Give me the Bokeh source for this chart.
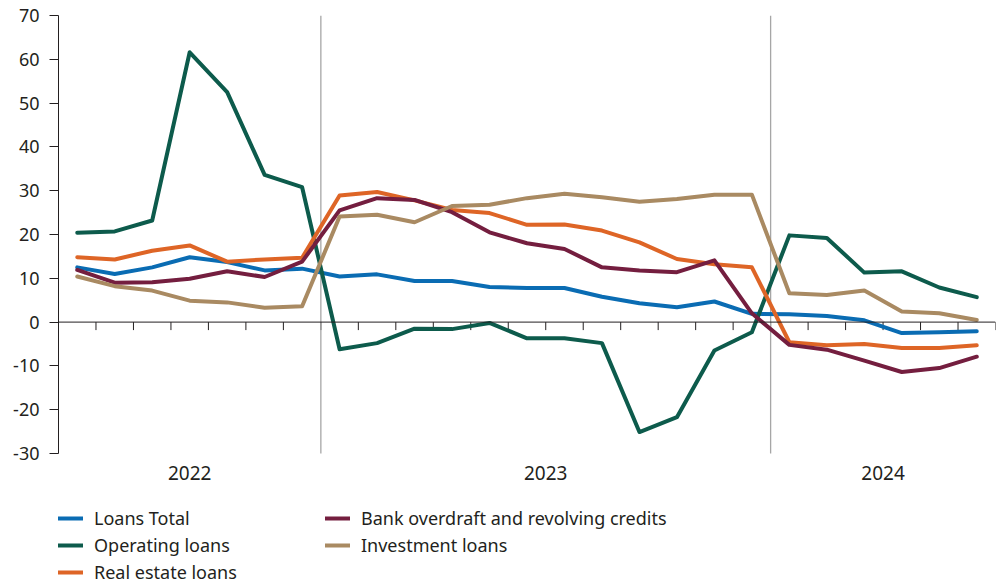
import numpy as np
from bokeh.plotting import figure
from bokeh.models import Range1d, LinearAxis, FixedTicker, Span, Legend, LegendItem
from bokeh.core.properties import value
from bokeh.embed import file_html
from bokeh.resources import INLINE

# ---- data (percent change, monthly) ----
months = (["2022-%02d" % m for m in range(6, 13)] +
          ["2023-%02d" % m for m in range(1, 13)] +
          ["2024-%02d" % m for m in range(1, 7)])

loans_total = [12.5, 11.0, 12.5, 14.8, 13.7, 11.8, 12.2, 10.4, 10.9, 9.4, 9.4, 8.0,
               7.8, 7.8, 5.8, 4.3, 3.4, 4.7, 1.9, 1.8, 1.4, 0.4, -2.5, -2.3, -2.1]
operating = [20.4, 20.7, 23.2, 61.6, 52.5, 33.6, 30.8, -6.2, -4.8, -1.5, -1.6, -0.2,
             -3.7, -3.7, -4.8, -25.1, -21.7, -6.5, -2.3, 19.8, 19.2, 11.3, 11.6, 7.9, 5.7]
real_estate = [14.8, 14.3, 16.3, 17.5, 13.8, 14.3, 14.7, 28.9, 29.7, 27.8, 25.6, 24.9,
               22.2, 22.3, 20.9, 18.2, 14.4, 13.2, 12.5, -4.6, -5.3, -5.0, -5.9, -5.9, -5.3]
overdraft = [11.9, 9.0, 9.1, 9.9, 11.6, 10.3, 13.8, 25.5, 28.3, 27.9, 25.1, 20.5,
             18.0, 16.7, 12.5, 11.8, 11.4, 14.1, 2.0, -5.2, -6.3, -8.8, -11.4, -10.5, -7.9]
investment = [10.4, 8.2, 7.2, 4.9, 4.5, 3.3, 3.6, 24.1, 24.5, 22.8, 26.5, 26.8,
              28.3, 29.3, 28.5, 27.5, 28.1, 29.1, 29.1, 6.6, 6.2, 7.2, 2.4, 2.0, 0.5]

years = ["2022", "2023", "2024"]
y_ticks = [-30, -20, -10, 0, 10, 20, 30, 40, 50, 60, 70]
y_tick_labels = ["-30", "-20", "-10", "0", "10", "20", "30", "40", "50", "60", "70"]

series = [
    ("Loans Total", loans_total, "#0a6cb3"),
    ("Operating loans", operating, "#0d5b4c"),
    ("Real estate loans", real_estate, "#de6526"),
    ("Bank overdraft and revolving credits", overdraft, "#741e3f"),
    ("Investment loans", investment, "#a98a62"),
]

n = len(months)
x = [i + 0.5 for i in range(n)]
year_of = [m[:4] for m in months]
year_start = [year_of.index(y) for y in years]
year_end = [len(year_of) - year_of[::-1].index(y) for y in years]
year_centers = [(s + e) / 2 for s, e in zip(year_start, year_end)]

FONT = "Noto Sans"
TXT = "#231f20"

# geometry: value axis spans 438 px for 100 units; frame runs to canvas bottom
W, H = 1001, 584
TOP, LEFT, RIGHT = 15, 58, 6
ymin, ymax = min(y_ticks), max(y_ticks)
ppu = 438.0 / (ymax - ymin)
frame_h = H - TOP
y_lo = ymax - frame_h / ppu

p = figure(width=W, height=H, output_backend="svg", toolbar_location=None,
           x_range=Range1d(0, n), y_range=Range1d(y_lo, ymax),
           x_axis_type=None, y_axis_type=None,
           min_border_left=LEFT, min_border_right=RIGHT, min_border_top=TOP, min_border_bottom=0)
p.grid.visible = False
p.outline_line_color = None
p.background_fill_color = "white"

# y axis (line limited to the value range)
yax = LinearAxis(ticker=FixedTicker(ticks=y_ticks), bounds=(ymin, ymax),
                 major_label_overrides={t: l for t, l in zip(y_ticks, y_tick_labels)},
                 major_tick_out=9, major_tick_in=0,
                 minor_tick_line_color=None, axis_line_color=TXT, major_tick_line_color=TXT,
                 major_label_text_font=FONT, major_label_text_font_size="18px",
                 major_label_text_color=TXT, major_label_standoff=10)
p.add_layout(yax, "left")

# zero line with month ticks
p.add_layout(Span(location=0, dimension="width", line_color=TXT, line_width=1))
bounds = list(range(n + 1))
tick_len = 8 / ppu
p.segment(x0=bounds, x1=bounds, y0=[0] * len(bounds), y1=[-tick_len] * len(bounds),
          line_color=TXT, line_width=1)

# year separators
seps = year_start[1:]
p.segment(x0=seps, x1=seps, y0=[ymin] * len(seps), y1=[ymax] * len(seps),
          line_color="#a6a6a6", line_width=1.3)

# year labels
p.text(x=year_centers, y=[ymin - 19 / ppu] * len(years), text=years,
       text_align="center", text_baseline="middle",
       text_font=value(FONT), text_font_size="19px", text_color=TXT)

renderers = {}
for name, vals, col in series:
    r = p.line(x, vals, line_color=col, line_width=4, line_join="round", line_cap="round")
    renderers[name] = r

items = [LegendItem(label=name, renderers=[renderers[name]]) for name, _, _ in series]
legend = Legend(items=items, location=(0, 0), orientation="vertical", nrows=3,
                glyph_width=25, glyph_height=20, label_standoff=11, label_width=228,
                label_height=20, spacing=3, padding=0, margin=0,
                border_line_color=None, background_fill_alpha=0,
                label_text_font=FONT, label_text_font_size="18px", label_text_color=TXT)
p.add_layout(legend, "center")

open("out.html", "w").write(file_html(p, INLINE))
